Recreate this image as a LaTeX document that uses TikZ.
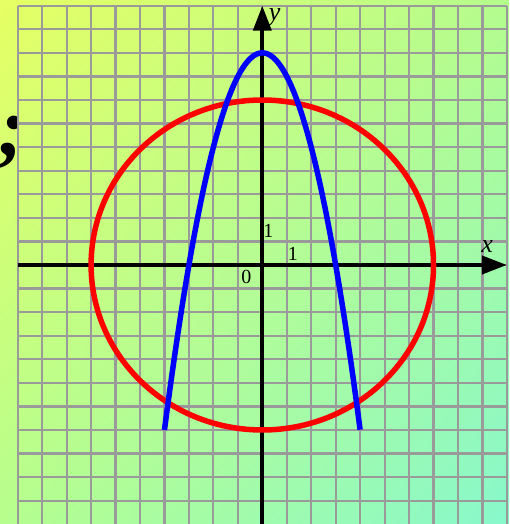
\documentclass[tikz,border=0pt]{standalone}
\usepackage{fontspec}
\setmainfont{Liberation Serif}
\usetikzlibrary{arrows.meta,shadings}
\definecolor{bgUL}{HTML}{E6FF64}
\definecolor{bgUR}{HTML}{B4FC8E}
\definecolor{bgLL}{HTML}{B6FE8E}
\definecolor{bgLR}{HTML}{88F8CC}
\definecolor{gridgray}{HTML}{9A9A9A}
\tikzset{
  gridline/.style={draw=gridgray, line width=2.2pt},
  axisline/.style={draw=black, line width=4pt, -{Triangle[length=25pt,width=18pt]}},
  numlabel/.style={inner sep=0pt, font=\fontsize{20}{20}\selectfont},
  varlabel/.style={inner sep=0pt, font=\fontsize{26}{26}\selectfont\itshape},
  curvecircle/.style={draw=red, line width=5.5pt},
  curveparab/.style={draw=blue, line width=5.5pt},
}
\begin{document}
\begin{tikzpicture}[x=24.46pt, y=23.57pt]
\useasboundingbox (-10.724,-10.989) rectangle (10.086,11.243);
\shade[upper left=bgUL, upper right=bgUR, lower left=bgLL, lower right=bgLR]
  (-10.724,-10.989) rectangle (10.086,11.243);
\begin{scope}
  \clip (-10.724,-10.989) rectangle (-10,11.243);
  \node[inner sep=0pt, font=\fontsize{84}{84}\selectfont\bfseries\itshape] (semi) at (-10.2,5.2) {;};
\end{scope}
% grid
\foreach \i in {-10,...,10} \draw[gridline] (\i,11) -- (\i,-11.2);
\foreach \j in {-10,...,11} \draw[gridline] (-10,\j) -- (10,\j);
% axes
\coordinate (xs) at (-10,0);
\coordinate (xe) at (10,0);
\coordinate (ys) at (0,-11.2);
\coordinate (ye) at (0,11);
\draw[axisline] (xs) -- (xe);
\draw[axisline] (ys) -- (ye);
% curves
\draw[curvecircle] (0,0) ellipse [x radius=171.22pt, y radius=164.99pt];
\draw[curveparab] plot[domain=-4:4, samples=120, smooth] (\x,{9-\x*\x});
% labels
\node[varlabel] (ylab) at (0.5,10.5) {y};
\node[varlabel] (xlab) at (9.19,0.8) {x};
\node[numlabel] (one1) at (0.25,1.46) {1};
\node[numlabel] (one2) at (1.25,0.49) {1};
\node[numlabel] (zero) at (-0.65,-0.49) {0};
\end{tikzpicture}
\end{document}
